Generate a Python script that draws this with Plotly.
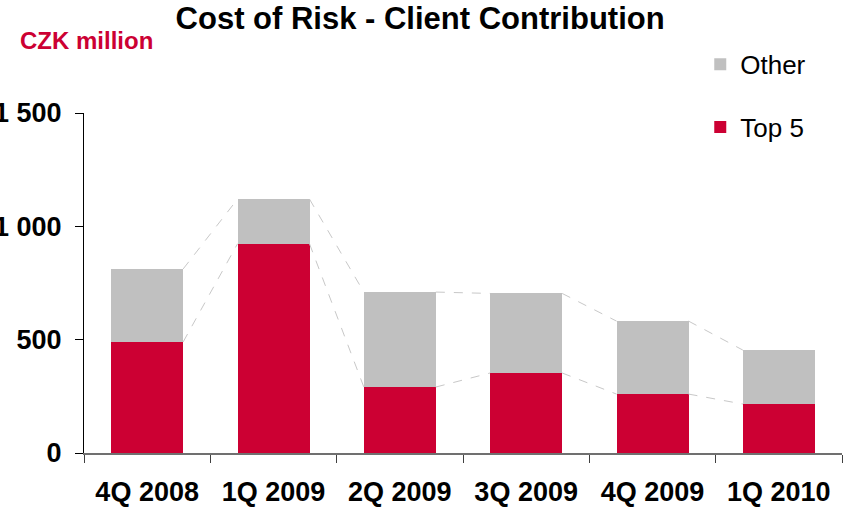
import plotly.graph_objects as go

quarters = ['4Q 2008', '1Q 2009', '2Q 2009', '3Q 2009', '4Q 2009', '1Q 2010']
top5 = [490, 923, 291, 353, 260, 216]
other = [322, 197, 419, 351, 322, 238]
y_ticks = [0, 500, 1000, 1500]
y_tick_labels = ['0', '500', '1 000', '1 500']

RED = '#CC0033'
GREY = '#C0C0C0'
FONT = 'Arial, Liberation Sans, sans-serif'
bar_w = 0.57

fig = go.Figure()

fig.add_trace(go.Bar(x=quarters, y=top5, name='Top 5', marker=dict(color=RED, line=dict(width=0)),
                     width=bar_w, legendgroup='a', legendrank=2))
fig.add_trace(go.Bar(x=quarters, y=other, name='Other', marker=dict(color=GREY, line=dict(width=0)),
                     width=bar_w, legendgroup='b', legendrank=1))

# dashed connectors between neighbouring bars (top of Top 5 and top of total)
totals = [t + o for t, o in zip(top5, other)]
for series in (top5, totals):
    xs, ys = [], []
    for i in range(len(series) - 1):
        xs += [i + bar_w / 2, i + 1 - bar_w / 2, None]
        ys += [series[i], series[i + 1], None]
    fig.add_trace(go.Scatter(x=xs, y=ys, mode='lines', xaxis='x2', showlegend=False,
                             line=dict(color='#C8C8C8', width=1, dash='dash'), hoverinfo='skip'))

fig.update_layout(
    barmode='stack',
    width=847, height=509,
    margin=dict(l=84, r=5, t=113, b=56),
    plot_bgcolor='white', paper_bgcolor='white',
    font=dict(family=FONT, color='black'),
    title=dict(text='<b>Cost of Risk - Client Contribution</b>', x=0.496, xanchor='center',
               y=0.964, yanchor='middle', font=dict(size=31, color='black')),
    xaxis=dict(type='category', range=[-0.5, 5.5], tickson='boundaries', ticks='outside', ticklen=8,
               tickcolor='#404040', showline=True, linecolor='#707070', linewidth=2, showgrid=False,
               tickfont=dict(size=27, color='black', family=FONT), ticklabelstandoff=14,
               tickprefix='<b>', ticksuffix='</b>', automargin=False),
    xaxis2=dict(overlaying='x', range=[-0.5, 5.5], visible=False),
    yaxis=dict(range=[0, 1500], tickvals=y_ticks, ticktext=['<b>' + s + '</b>' for s in y_tick_labels],
               ticks='outside', ticklen=8, tickcolor='black', showline=True, linecolor='black',
               linewidth=1, showgrid=False, zeroline=False, ticklabelstandoff=8,
               tickfont=dict(size=27, color='black', family=FONT), automargin=False),
    legend=dict(x=0.813, y=1.212, xanchor='left', yanchor='top', traceorder='grouped',
                tracegroupgap=26, font=dict(size=26, color='black'), bgcolor='rgba(0,0,0,0)'),
    showlegend=True,
    bargap=0.43,
)

fig.add_annotation(text='<b>CZK million</b>', xref='paper', yref='paper', x=-0.087, y=1.212,
                   xanchor='left', yanchor='middle', showarrow=False,
                   font=dict(size=24, color=RED, family=FONT))

# drop the default page margin so the figure sits at the window's corner
fig.write_html('out.html', config={'displayModeBar': False},
               post_script="document.body.style.margin='0';")
